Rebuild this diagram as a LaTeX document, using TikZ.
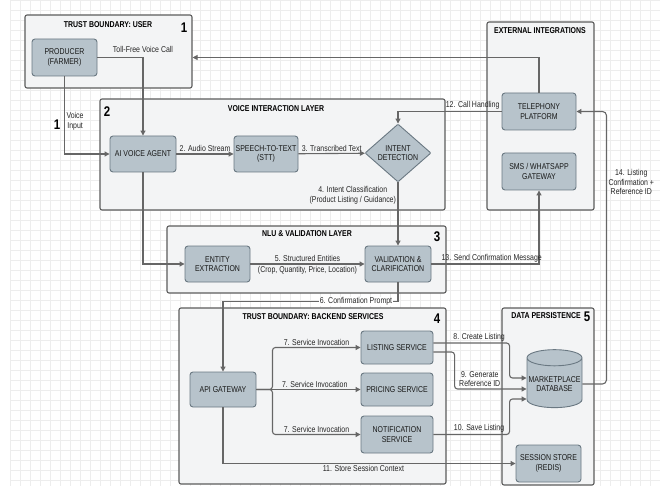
\documentclass[tikz,border=0pt]{standalone}
\usepackage{fontspec}
\setmainfont{Liberation Sans}[FakeStretch=0.82]
\usetikzlibrary{arrows.meta,shapes.geometric}
\definecolor{boxfill}{HTML}{B7C3CB}
\definecolor{boxline}{HTML}{6A7882}
\definecolor{zonefill}{HTML}{F3F4F5}
\definecolor{zoneline}{HTML}{5C5C5C}
\definecolor{wire}{HTML}{666666}
\definecolor{gridcol}{HTML}{EDEDED}

\begin{document}
\begin{tikzpicture}[x=1pt,y=-1pt,
  font=\fontsize{8.5}{9.5}\selectfont,
  zone/.style={draw=zoneline,fill=zonefill,line width=1.1pt,rounded corners=2pt,inner sep=0pt},
  blk/.style={draw=boxline,fill=boxfill,line width=0.9pt,rounded corners=3pt,align=center,inner sep=1pt,text=black!90},
  ttl/.style={font=\fontsize{8.5}{9.5}\selectfont\bfseries},
  num/.style={font=\fontsize{14}{14}\selectfont\bfseries},
  lbl/.style={inner sep=1.5pt,align=center,text=black!85},
  flow/.style={draw=wire,line width=1.1pt,-{Triangle[length=5pt,width=5pt]}}]
\useasboundingbox (0,0) rectangle (660,486);
\fill[white] (0,0) rectangle (660,486);
\foreach \gx in {10,20,...,660}
\draw[gridcol,line width=0.4pt] (\gx,0) -- (\gx,486);
\foreach \gy in {0,10,...,480}
\draw[gridcol,line width=0.4pt] (10,\gy) -- (660,\gy);

\node[zone,minimum width=167pt,minimum height=73pt] (userzone) at (108.5,51.5) {};
\node[zone,minimum width=345pt,minimum height=111pt] (voicezone) at (272.5,154.5) {};
\node[zone,minimum width=107pt,minimum height=188pt] (extzone) at (540.5,116) {};
\node[zone,minimum width=279pt,minimum height=67pt] (nluzone) at (306.5,259.5) {};
\node[zone,minimum width=267pt,minimum height=176pt] (backzone) at (312.5,396) {};
\node[zone,minimum width=92pt,minimum height=177pt] (datazone) at (548,396.5) {};

\node[ttl] (usertitle) at (108,25) {TRUST BOUNDARY: USER};
\node[ttl] (voicetitle) at (276,109) {VOICE INTERACTION LAYER};
\node[ttl] (exttitle) at (540,31) {EXTERNAL INTEGRATIONS};
\node[ttl] (nlutitle) at (307,234) {NLU \& VALIDATION LAYER};
\node[ttl] (backtitle) at (313,317) {TRUST BOUNDARY: BACKEND SERVICES};
\node[ttl] (datatitle) at (546,316) {DATA PERSISTENCE};
\node[num] (num1) at (184,28) {1};
\node[num] (num2) at (107,112) {2};
\node[num] (num3) at (437,237) {3};
\node[num] (num4) at (437,319) {4};
\node[num] (num5) at (587,317) {5};
\node[num] (numin) at (57,125) {1};

\node[blk,minimum width=65pt,minimum height=37pt] (producer) at (64.5,57.5) {PRODUCER\\(FARMER)};
\node[blk,minimum width=66pt,minimum height=36pt] (aiagent) at (143,154) {AI VOICE AGENT};
\node[blk,minimum width=64pt,minimum height=36pt] (stt) at (266,154) {SPEECH-TO-TEXT\\(STT)};
\node[blk,diamond,rounded corners=1pt,minimum width=66pt,minimum height=58pt,inner sep=0pt] (intent) at (398,153) {INTENT\\DETECTION};
\node[blk,minimum width=74pt,minimum height=37pt] (telephony) at (539,111.5) {TELEPHONY\\PLATFORM};
\node[blk,minimum width=74pt,minimum height=37pt] (smsgw) at (539,171.5) {SMS / WHATSAPP\\GATEWAY};
\node[blk,minimum width=65pt,minimum height=36pt] (entity) at (217.5,264) {ENTITY\\EXTRACTION};
\node[blk,minimum width=66pt,minimum height=36pt] (validation) at (398,264) {VALIDATION \&\\CLARIFICATION};
\node[blk,minimum width=66pt,minimum height=35pt] (apigw) at (223,389.5) {API GATEWAY};
\node[blk,minimum width=72pt,minimum height=33pt] (listing) at (397,347.5) {LISTING SERVICE};
\node[blk,minimum width=72pt,minimum height=33pt] (pricing) at (397,389.5) {PRICING SERVICE};
\node[blk,minimum width=72pt,minimum height=37pt] (notif) at (397,434.5) {NOTIFICATION\\SERVICE};
\node[blk,cylinder,shape border rotate=90,aspect=0.3,rounded corners=0pt,minimum width=55pt,minimum height=58pt] (marketdb) at (554.5,384) {MARKETPLACE\\DATABASE};
\node[blk,minimum width=65pt,minimum height=37pt] (session) at (548.5,463.5) {SESSION STORE\\(REDIS)};

\draw[flow] (producer.east) -| (aiagent.north) node[lbl,pos=0.5,above=3pt] {Toll-Free Voice Call};
\draw[flow] (producer.south) |- (aiagent.west) node[lbl,pos=0.29,right] {Voice\\Input};
\draw[flow] (telephony.north) |- (userzone.east |- producer.east);
\draw[flow] (aiagent) -- (stt) node[lbl,midway,above] {2. Audio Stream};
\draw[flow] (stt) -- (intent) node[lbl,midway,above] {3. Transcribed Text};
\draw[flow] (telephony.west) -| (intent.north) node[lbl,pos=0,above left] {12. Call Handling};
\draw[flow] (intent.south) -- (validation.north) node[lbl,pos=0.2,left] {4. Intent Classification\\(Product Listing / Guidance)};
\draw[flow] (aiagent.south) |- (entity.west);
\draw[flow] (entity) -- (validation) node[lbl,midway,above] {5. Structured Entities} node[lbl,midway,below] {(Crop, Quantity, Price, Location)};
\draw[flow] (validation.east) -| (smsgw.south) node[lbl,pos=0.28,above] {13. Send Confirmation Message};
\draw[flow] (validation.south) -- ++(0,19) -| (apigw.north) node[lbl,pos=0.12,fill=white,inner sep=0.5pt] {6. Confirmation Prompt};
\foreach \svc in {listing,notif}
\draw[flow,rounded corners=3pt] (apigw.east) -- ++(16,0) |- (\svc.west) node[lbl,pos=0.75,above] {7. Service Invocation};
\draw[flow] (apigw) -- (pricing) node[lbl,pos=0.56,above] {7. Service Invocation};
\draw[flow] (apigw.south) |- (session.west) node[lbl,pos=0.74,below] {11. Store Session Context};
\draw[flow,rounded corners=3pt] ([yshift=4.5pt]listing.east) -| ([xshift=-17pt,yshift=6pt]marketdb.west) node[lbl,pos=0.3,above] {8. Create Listing} -- ([yshift=6pt]marketdb.west);
\draw[flow,rounded corners=3pt] ([yshift=-4.5pt]listing.east) -| ([xshift=-72pt,yshift=-5pt]marketdb.west) -- ([yshift=-5pt]marketdb.west) node[lbl,pos=0.35,above] {9. Generate\\Reference ID};
\draw[flow,rounded corners=3pt] (notif.east) -| ([xshift=-17pt,yshift=-15pt]marketdb.west) node[lbl,pos=0.3,above] {10. Save Listing} -- ([yshift=-15pt]marketdb.west);
\draw[flow,rounded corners=4pt] (marketdb.east) -- ++(24,0) |- (telephony.east) node[lbl,pos=0.37,right] {14. Listing\\Confirmation +\\Reference ID};
\end{tikzpicture}
\end{document}
